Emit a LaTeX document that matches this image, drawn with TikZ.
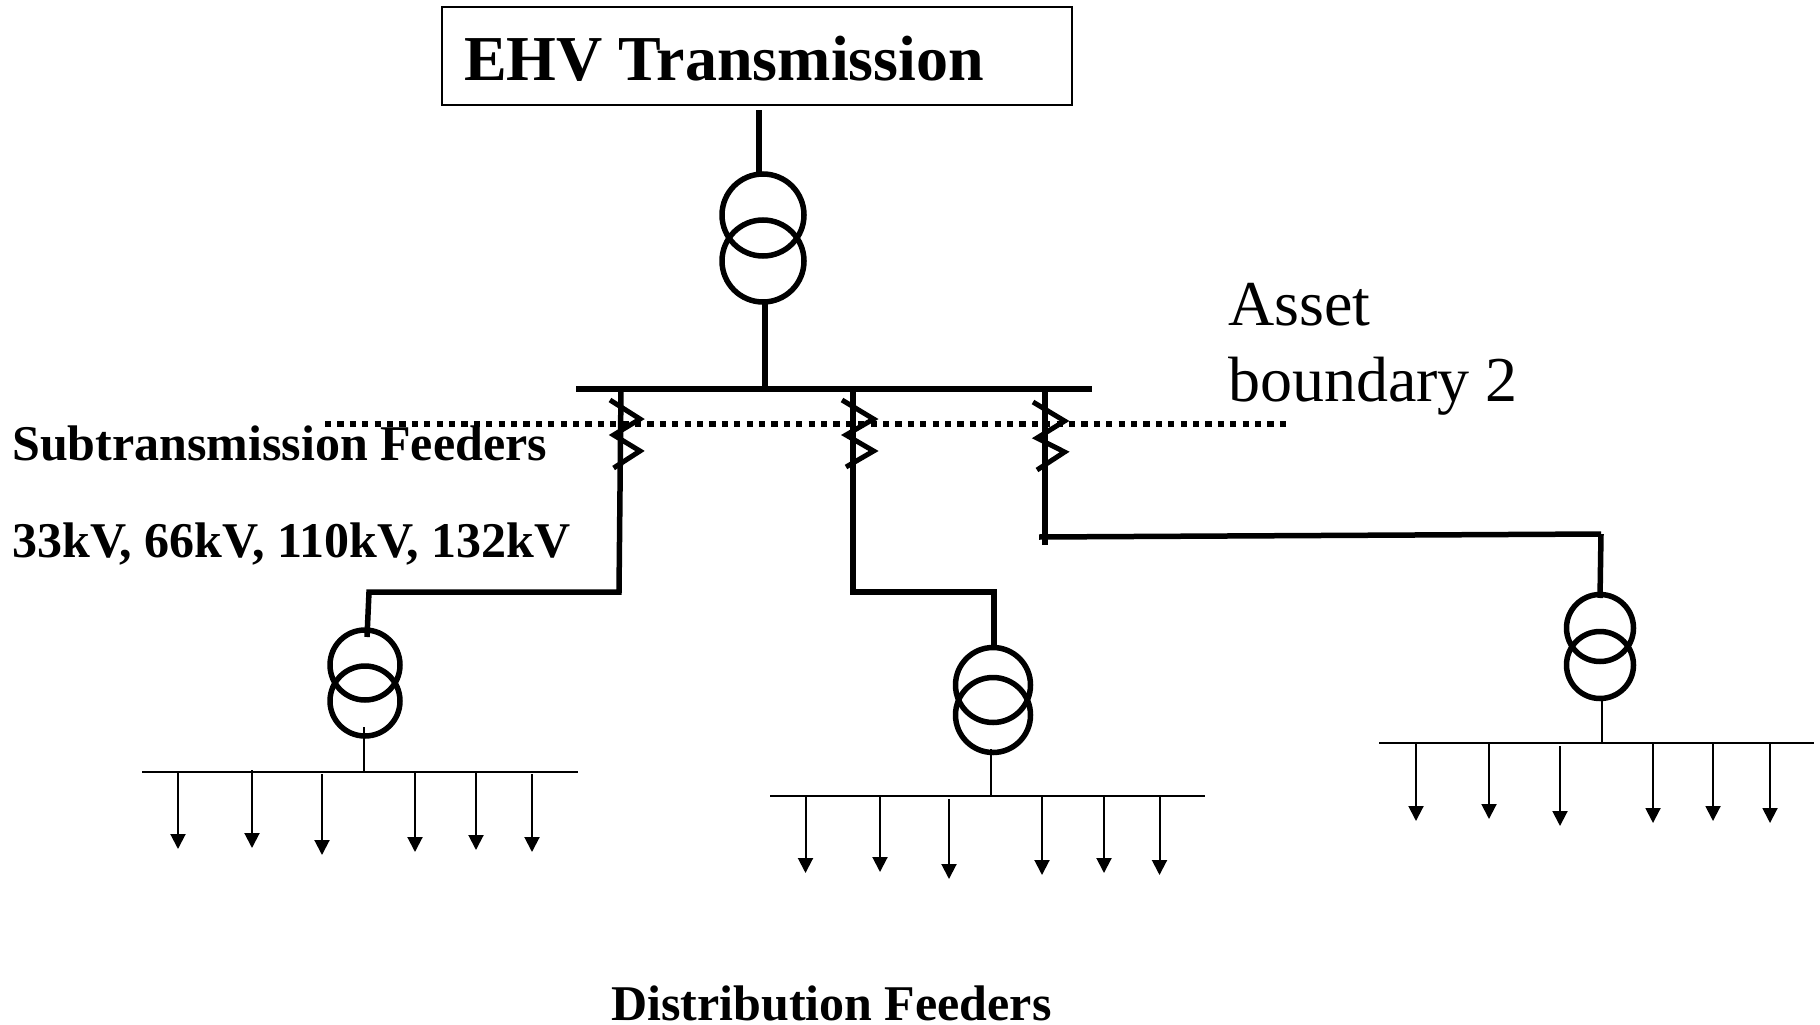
\documentclass[tikz,border=0pt]{standalone}
\usepackage{fontspec}
\setmainfont{Liberation Serif}
\tikzset{
  x=1pt,y=-1pt,
  lbl/.style={inner sep=0pt,anchor=base west,text=black},
  hv/.style={line width=5.5pt,line cap=butt,line join=miter},
  thin line/.style={line width=2pt},
  coil/.style={circle,draw,line width=5.5pt,inner sep=0pt,fill=none},
  load/.style={line width=2pt,-{Triangle[length=15pt,width=15pt]}},
  zig/.style={line width=5pt,line join=miter},
  bound/.style={line width=5.5pt,dash pattern=on 6.2pt off 6.2pt}
}
\usetikzlibrary{arrows.meta}
\newcommand{\loads}[8]{%
 % #1 prefix, #2 bus y, then pairs handled below
}
\begin{document}
\begin{tikzpicture}
\useasboundingbox (0,0) rectangle (1820,1025);
% top box
\node[draw,line width=1.5pt,minimum width=630pt,minimum height=98pt,inner sep=0pt] (ehvbox) at (757,56) {};
\node[lbl,font=\bfseries\fontsize{64}{64}\selectfont] (ehv) at (464,81) {EHV Transmission};
% main transformer
\node[coil,minimum size=82pt] (t0a) at (763,215) {};
\node[coil,minimum size=82pt] (t0b) at (763,261) {};
\coordinate (t0in) at (759,110);
\coordinate (t0inb) at (759,176);
\draw[hv] (t0in) -- (t0inb);
\coordinate (t0out) at (765,302);
\coordinate (mainj) at (765,388);
\draw[hv] (t0out) -- (mainj);
% main bus
\coordinate (busL) at (576,389);
\coordinate (busR) at (1092,389);
\draw[line width=6.5pt] (busL) -- (busR);
% feeder 1
\coordinate (f1a) at (621,389);
\coordinate (f1b) at (619,592);
\coordinate (f1c) at (369,592);
\coordinate (f1d) at (367,637);
\draw[hv] (f1a) -- (f1b) -- (f1c) -- (f1d);
% feeder 2
\coordinate (f2a) at (853,389);
\coordinate (f2b) at (853,592);
\coordinate (f2c) at (994,592);
\coordinate (f2d) at (994,650);
\draw[hv] (f2a) -- (f2b) -- (f2c) -- (f2d);
% feeder 3
\coordinate (f3a) at (1045,389);
\coordinate (f3b) at (1045,545);
\coordinate (f3c) at (1039,537);
\coordinate (f3d) at (1601,534);
\coordinate (f3e) at (1600,598);
\draw[hv] (f3a) -- (f3b);
\draw[hv] (f3c) -- (f3d);
\draw[hv] (f3d) -- (f3e);
% zigzags
\draw[zig] (610,400) -- (640,419) -- (613.6,435) -- (640,451) -- (613.6,468);
\draw[zig] (842,400) -- (873.6,419) -- (846,435) -- (873.6,451) -- (846,467);
\draw[zig] (1033,402) -- (1064.6,421) -- (1037,438) -- (1064.6,452) -- (1037,470);
% asset boundary
\coordinate (abL) at (325,424);
\coordinate (abR) at (1289,424);
\draw[bound] (abL) -- (abR);
% sub transformers
\node[coil,minimum size=70pt] (t1a) at (365,665) {};
\node[coil,minimum size=70pt] (t1b) at (365,701) {};
\node[coil,minimum size=75pt] (t2a) at (993,685) {};
\node[coil,minimum size=75pt] (t2b) at (993,715) {};
\node[coil,minimum size=67pt] (t3a) at (1600,628) {};
\node[coil,minimum size=67pt] (t3b) at (1600,665) {};
% distribution buses
\coordinate (b1L) at (142,772); \coordinate (b1R) at (578,772);
\coordinate (b2L) at (770,796); \coordinate (b2R) at (1205,796);
\coordinate (b3L) at (1379,743); \coordinate (b3R) at (1814,743);
\draw[thin line] (b1L) -- (b1R);
\draw[thin line] (b2L) -- (b2R);
\draw[thin line] (b3L) -- (b3R);
\coordinate (s1t) at (364,727); \coordinate (s1b) at (364,772);
\coordinate (s2t) at (991,749); \coordinate (s2b) at (991,796);
\coordinate (s3t) at (1602,696); \coordinate (s3b) at (1602,743);
\draw[thin line] (s1t) -- (s1b);
\draw[thin line] (s2t) -- (s2b);
\draw[thin line] (s3t) -- (s3b);
% loads
\foreach \i/\x/\t/\b in {1/178/772/849,2/252/770/848,3/322/774/855,4/415/772/852,5/476/772/850,6/532/774/852}{
  \coordinate (la\i) at (\x,\t); \coordinate (lb\i) at (\x,\b);
  \draw[load] (la\i) -- (lb\i);}
\foreach \i/\x/\t/\b in {1/805.5/796/873,2/880/796/872,3/949/799/879,4/1042/796/875,5/1104/796/873,6/1159.5/796/875}{
  \coordinate (ma\i) at (\x,\t); \coordinate (mb\i) at (\x,\b);
  \draw[load] (ma\i) -- (mb\i);}
\foreach \i/\x/\t/\b in {1/1416/743/821,2/1489/743/819,3/1560/746/826,4/1653/743/823,5/1713/743/821,6/1770/743/823}{
  \coordinate (na\i) at (\x,\t); \coordinate (nb\i) at (\x,\b);
  \draw[load] (na\i) -- (nb\i);}
% labels
\node[lbl,font=\fontsize{64}{64}\selectfont] (asset) at (1228,325) {Asset};
\node[lbl,font=\fontsize{64}{64}\selectfont] (bnd) at (1228,401) {boundary 2};
\node[lbl,font=\bfseries\fontsize{50}{50}\selectfont] (sub) at (12,460) {Subtransmission Feeders};
\node[lbl,font=\bfseries\fontsize{50}{50}\selectfont] (volt) at (12,557) {33kV, 66kV, 110kV, 132kV};
\node[lbl,font=\bfseries\fontsize{50}{50}\selectfont] (dist) at (611,1020) {Distribution Feeders};
\end{tikzpicture}
\end{document}
